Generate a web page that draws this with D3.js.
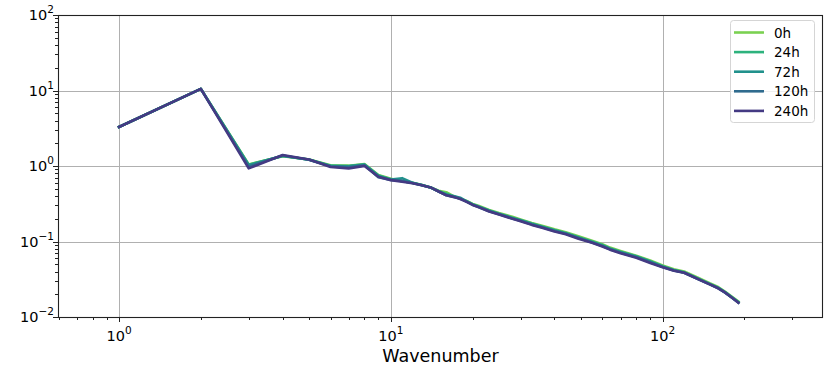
<!DOCTYPE html>
<html>
<head>
<meta charset="utf-8">
<script src="https://cdn.jsdelivr.net/npm/d3@7"></script>
<style>
  body { margin: 0; background: #fff; }
  text { font-family: "DejaVu Sans", sans-serif; fill: #000; }
</style>
</head>
<body>
<svg id="chart" width="831" height="377"></svg>
<script>
// wavenumbers shared by every series
var wavenumbers = [1,2,3,4,5,6,7,8,9,10,11,12,13,14,15,16,17,18,19,20,21,23,25,28,30,33,36,40,44,49,
                   55,60,64,70,80,90,100,110,120,133,149,160,170,180,190];

// spectra, one per time
var s0h   = [3.29,10.5,1.05,1.35,1.22,1.02,1.01,1.06,0.76,0.68,0.63,0.60,0.56,0.52,0.47,0.45,0.40,0.37,0.345,0.315,0.297,
             0.262,0.238,0.212,0.196,0.176,0.162,0.145,0.133,0.117,0.102,0.092,0.083,0.075,0.065,0.056,0.048,
             0.043,0.040,0.034,0.028,0.025,0.0215,0.0185,0.016];
var s24h  = [3.29,10.5,1.04,1.36,1.22,1.01,1.00,1.05,0.75,0.67,0.63,0.60,0.56,0.52,0.465,0.43,0.395,0.37,0.342,0.312,0.292,
             0.258,0.234,0.207,0.192,0.173,0.158,0.142,0.13,0.114,0.1,0.09,0.081,0.073,0.064,0.055,0.047,
             0.042,0.039,0.033,0.0275,0.0245,0.0212,0.0182,0.0158];
var s72h  = [3.29,10.5,1.02,1.37,1.21,1.00,0.99,1.04,0.74,0.66,0.69,0.60,0.56,0.52,0.46,0.415,0.40,0.38,0.34,0.308,0.29,
             0.255,0.232,0.204,0.19,0.17,0.156,0.14,0.128,0.112,0.098,0.088,0.08,0.072,0.063,0.054,0.0462,
             0.0415,0.0388,0.0328,0.0272,0.0242,0.021,0.0181,0.0156];
var s120h = [3.29,10.5,0.98,1.38,1.21,0.99,0.96,1.02,0.71,0.655,0.635,0.595,0.555,0.52,0.46,0.41,0.39,0.37,0.338,0.306,0.287,
             0.252,0.23,0.202,0.188,0.168,0.154,0.138,0.127,0.111,0.097,0.087,0.079,0.071,0.062,0.053,0.0458,
             0.0412,0.0386,0.0326,0.0271,0.0241,0.021,0.018,0.0155];
var s240h = [3.29,10.5,0.93,1.40,1.22,0.97,0.93,1.00,0.72,0.65,0.62,0.59,0.555,0.52,0.46,0.41,0.39,0.365,0.335,0.305,0.285,
             0.25,0.228,0.2,0.186,0.166,0.152,0.136,0.125,0.109,0.096,0.086,0.078,0.07,0.061,0.052,0.0455,
             0.041,0.0385,0.0325,0.027,0.024,0.021,0.018,0.0155];

var seriesNames = ["0h", "24h", "72h", "120h", "240h"];
var seriesValues = [s0h, s24h, s72h, s120h, s240h];
var seriesColors = ["#7ad151", "#2db27d", "#21918c", "#2f6b8e", "#443a83"];

var xTickExps = [0, 1, 2];
var yTickExps = [-2, -1, 0, 1, 2];

var L = 58, R = 823, T = 15, B = 317;

var svg = d3.select("#chart");

var scX = d3.scaleLog().domain([0.5964, 389]).range([L, R]);
var scY = d3.scaleLog().domain([0.01, 100]).range([B, T]);

// minor tick positions on each axis
var xMinor = [], yMinor = [];
[-1, 0, 1, 2].forEach(function(e) {
    for (var m = 2; m <= 9; m++) {
        var v = m * Math.pow(10, e);
        if (v >= scX.domain()[0] && v <= scX.domain()[1]) xMinor.push(v);
    }
});
[-2, -1, 0, 1].forEach(function(e) {
    for (var m = 2; m <= 9; m++) yMinor.push(m * Math.pow(10, e));
});

// grid lines at the decades
var grid = svg.append("g").attr("stroke", "#b0b0b0").attr("stroke-width", 1);
xTickExps.forEach(function(e) {
    var x = Math.round(scX(Math.pow(10, e))) + 0.5;
    grid.append("line").attr("x1", x).attr("x2", x).attr("y1", T).attr("y2", B);
});
yTickExps.forEach(function(e) {
    var y = Math.round(scY(Math.pow(10, e))) + 0.5;
    grid.append("line").attr("x1", L).attr("x2", R).attr("y1", y).attr("y2", y);
});

// series lines
svg.append("clipPath").attr("id", "clip")
    .append("rect").attr("x", L).attr("y", T).attr("width", R - L).attr("height", B - T);

var line = d3.line().x(function(d) { return scX(d[0]); }).y(function(d) { return scY(d[1]); });

svg.append("g").attr("clip-path", "url(#clip)")
    .selectAll("path").data(seriesValues).enter().append("path")
    .attr("d", function(vals) { return line(vals.map(function(v, i) { return [wavenumbers[i], v]; })); })
    .attr("fill", "none")
    .attr("stroke", function(d, i) { return seriesColors[i]; })
    .attr("stroke-width", 2.6)
    .attr("stroke-linejoin", "round")
    .attr("stroke-linecap", "square");

// ticks
var ticks = svg.append("g").attr("stroke", "#222").attr("stroke-width", 1);
xTickExps.forEach(function(e) {
    var x = Math.round(scX(Math.pow(10, e))) + 0.5;
    ticks.append("line").attr("x1", x).attr("x2", x).attr("y1", B).attr("y2", B + 5);
});
xMinor.forEach(function(v) {
    var x = Math.round(scX(v)) + 0.5;
    ticks.append("line").attr("x1", x).attr("x2", x).attr("y1", B).attr("y2", B + 3);
});
yTickExps.forEach(function(e) {
    var y = Math.round(scY(Math.pow(10, e))) + 0.5;
    ticks.append("line").attr("x1", L - 5).attr("x2", L).attr("y1", y).attr("y2", y);
});
yMinor.forEach(function(v) {
    var y = Math.round(scY(v)) + 0.5;
    ticks.append("line").attr("x1", L - 3).attr("x2", L).attr("y1", y).attr("y2", y);
});

// frame
svg.append("rect").attr("x", L + 0.5).attr("y", T + 0.5).attr("width", R - L - 1).attr("height", B - T)
    .attr("fill", "none").attr("stroke", "#222").attr("stroke-width", 1.1);

function expLabel(sel, e) {
    sel.append("tspan").text("10");
    sel.append("tspan").attr("dy", -7).attr("font-size", 10.5).text(String(e).replace("-", "\u2212"));
}

xTickExps.forEach(function(e) {
    var t = svg.append("text").attr("x", scX(Math.pow(10, e))).attr("y", 341)
        .attr("text-anchor", "middle").attr("font-size", 14.5);
    expLabel(t, e);
});
yTickExps.forEach(function(e) {
    var t = svg.append("text").attr("x", 54).attr("y", scY(Math.pow(10, e)) + 5)
        .attr("text-anchor", "end").attr("font-size", 14.5);
    expLabel(t, e);
});

svg.append("text").attr("x", (L + R) / 2 + 0).attr("y", 362)
    .attr("text-anchor", "middle").attr("font-size", 17.5).text("Wavenumber");

// legend
var lg = svg.append("g");
lg.append("rect").attr("x", 730.5).attr("y", 20.5).attr("width", 84).attr("height", 102).attr("rx", 3)
    .attr("fill", "#fff").attr("fill-opacity", 0.8).attr("stroke", "#d5d5d5");
seriesNames.forEach(function(n, i) {
    var y = 32.5 + i * 19.6;
    lg.append("line").attr("x1", 734).attr("x2", 764).attr("y1", y).attr("y2", y)
        .attr("stroke", seriesColors[i]).attr("stroke-width", 2.6);
    lg.append("text").attr("x", 774).attr("y", y + 5).attr("font-size", 13.5).text(n);
});
</script>
</body>
</html>
